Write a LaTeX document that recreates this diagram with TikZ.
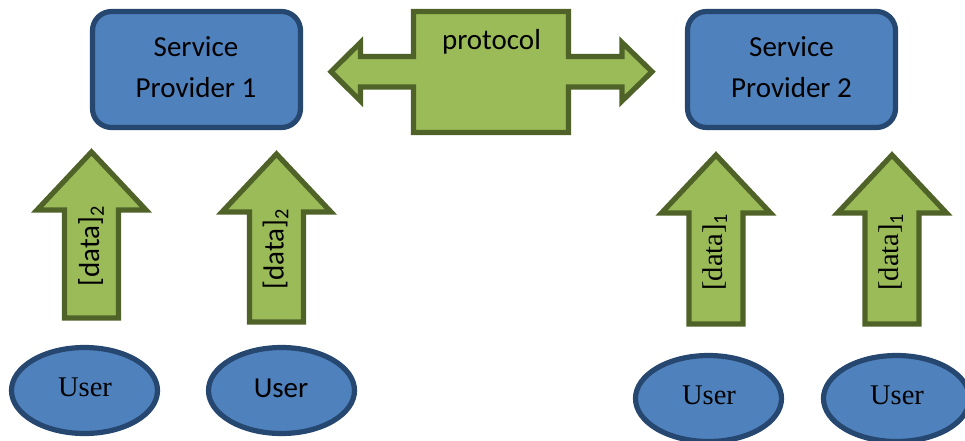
\documentclass[tikz,border=0pt]{standalone}
\usepackage{fontspec}
\setmainfont{Carlito}
\newfontfamily\serifface{Liberation Serif}
\definecolor{boxblue}{HTML}{4F81BD}
\definecolor{boxedge}{HTML}{254770}
\definecolor{arrowgreen}{HTML}{9BBB59}
\definecolor{arrowedge}{HTML}{4F6228}
\newcommand{\uparrowshape}[3]{% centre x, top y, bottom y
  \draw[greenshape] (#1,#2-2) -- (#1+54.5,#2+56) -- (#1+27,#2+56) -- (#1+27,#3)
    -- (#1-27,#3) -- (#1-27,#2+56) -- (#1-54.5,#2+56) -- cycle;}
\tikzset{
  greenshape/.style={draw=arrowedge,fill=arrowgreen,line width=5.2pt,miter limit=10,line join=miter},
  provider/.style={draw=boxedge,fill=boxblue,line width=5.2pt,rounded corners=19pt,
    minimum width=208pt,minimum height=116pt,inner sep=0pt,outer sep=0pt},
  userbox/.style={draw=boxedge,fill=boxblue,line width=5.2pt,ellipse,
    minimum width=146pt,minimum height=86pt,inner sep=0pt,outer sep=0pt},
  sans label/.style={font=\fontsize{29}{34}\selectfont,text=black,inner sep=0pt,align=center},
  serif label/.style={font=\serifface\fontsize{28.5}{34}\selectfont,text=black,inner sep=0pt},
}
\usetikzlibrary{shapes.geometric}
\begin{document}
\begin{tikzpicture}[x=1pt,y=-1pt]
\useasboundingbox (0,0) rectangle (965,441);
\node[provider] (sp1) at (196.5,69.5) {};
\node[provider] (sp2) at (791.5,69.5) {};
\node[sans label] (sp1text) at (196,67) {Service\\[6.5pt]Provider 1};
\node[sans label] (sp2text) at (791.5,67) {Service\\[6.5pt]Provider 2};
\draw[greenshape] (331,71.7) -- (360.5,42.5) -- (360.5,56.5) -- (413.5,56.5) -- (413.5,11.5)
  -- (568.5,11.5) -- (568.5,56.5) -- (622,56.5) -- (622,42.5) -- (652,71.7) -- (622,101)
  -- (622,87) -- (568.5,87) -- (568.5,132.5) -- (413.5,132.5) -- (413.5,87) -- (360.5,87)
  -- (360.5,101) -- cycle;
\node[sans label] (proto) at (491.5,41.5) {protocol};
\uparrowshape{91.5}{154}{318}
\uparrowshape{276.5}{156}{322}
\uparrowshape{716}{157}{324}
\uparrowshape{892}{157}{324}
\node[sans label,rotate=90] (d1) at (91,246) {[data]$_{\mathrm{2}}$};
\node[sans label,rotate=90] (d2) at (275.5,249) {[data]$_{\mathrm{2}}$};
\node[serif label,rotate=90] (d3) at (715,252) {[data]$_{\mathrm{1}}$};
\node[serif label,rotate=90] (d4) at (891,252) {[data]$_{\mathrm{1}}$};
\node[userbox] (u1) at (84.5,390.5) {};
\node[userbox] (u2) at (281.5,390.5) {};
\node[userbox] (u3) at (708.5,398.5) {};
\node[userbox] (u4) at (896.5,398.5) {};
\node[serif label] (u1t) at (85,387) {User};
\node[sans label] (u2t) at (281,388) {User};
\node[serif label] (u3t) at (709,395) {User};
\node[serif label] (u4t) at (897,395) {User};
\end{tikzpicture}
\end{document}
